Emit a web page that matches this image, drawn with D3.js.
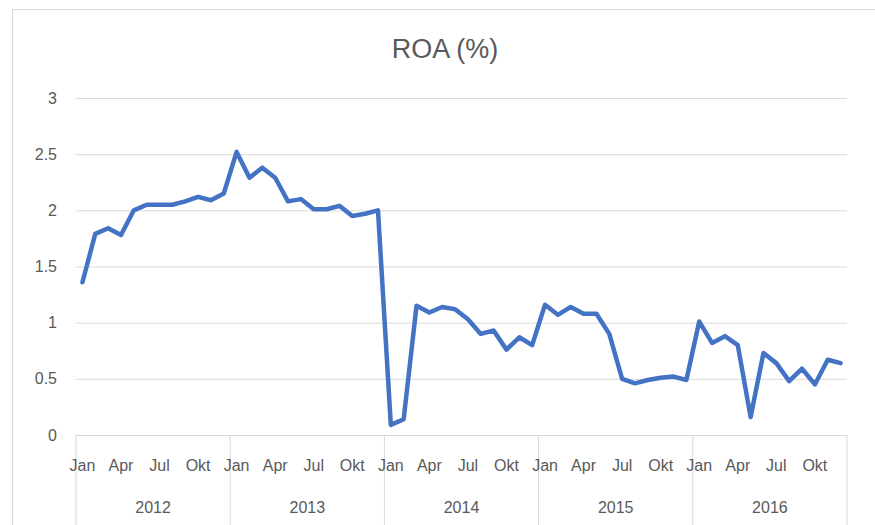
<!DOCTYPE html>
<html>
<head>
<meta charset="utf-8">
<script src="https://cdn.jsdelivr.net/npm/d3@7"></script>
<style>
  body { margin: 0; background: #fff; }
  text { font-family: "Liberation Sans", Arial, sans-serif; fill: #595959; }
</style>
</head>
<body>
<div id="vis"></div>
<script>
var years = ["2012", "2013", "2014", "2015", "2016"];
var monthNames = ["Jan", "Feb", "Mar", "Apr", "Mei", "Jun", "Jul", "Agu", "Sep", "Okt", "Nov", "Des"];
var shownMonths = ["Jan", "Apr", "Jul", "Okt"];
var yTicks = [0, 0.5, 1, 1.5, 2, 2.5, 3];

// ROA (%) per month, Jan 2012 .. Dec 2016
var roa2012 = [1.36, 1.79, 1.84, 1.78, 2.00, 2.05, 2.05, 2.05, 2.08, 2.12, 2.09, 2.15];
var roa2013 = [2.52, 2.29, 2.38, 2.29, 2.08, 2.10, 2.01, 2.01, 2.04, 1.95, 1.97, 2.00];
var roa2014 = [0.09, 0.14, 1.15, 1.09, 1.14, 1.12, 1.03, 0.90, 0.93, 0.76, 0.87, 0.80];
var roa2015 = [1.16, 1.07, 1.14, 1.08, 1.08, 0.90, 0.50, 0.46, 0.49, 0.51, 0.52, 0.49];
var roa2016 = [1.01, 0.82, 0.88, 0.80, 0.16, 0.73, 0.64, 0.48, 0.59, 0.45, 0.67, 0.64];

var series = [roa2012, roa2013, roa2014, roa2015, roa2016];

var data = [];
years.forEach(function(yr, i) {
  series[i].forEach(function(v, m) {
    data.push({key: yr + "-" + m, year: yr, month: monthNames[m], value: v});
  });
});

var margin = {top: 98, right: 28, bottom: 90, left: 76},
    width = 875 - margin.left - margin.right,
    height = 525 - margin.top - margin.bottom;

var svg = d3.select("#vis").append("svg")
    .attr("width", 875)
    .attr("height", 525);

// chart frame
svg.append("rect")
  .attr("x", 12.5).attr("y", 9.5)
  .attr("width", 900).attr("height", 600)
  .attr("fill", "none")
  .attr("stroke", "#d9d9d9");

svg.append("text")
  .attr("x", 445)
  .attr("y", 58)
  .attr("text-anchor", "middle")
  .style("font-size", "27px")
  .text("ROA (%)");

var g = svg.append("g")
  .attr("transform", "translate(" + margin.left + "," + margin.top + ")");

var x = d3.scaleBand()
  .domain(data.map(function(d) { return d.key; }))
  .range([0, width])
  .padding(0);

var xYear = d3.scaleBand()
  .domain(years)
  .range([0, width]);

var y = d3.scaleLinear()
  .domain([0, 3])
  .range([height, 0]);

// gridlines + y labels
var yAxis = g.append("g")
  .call(d3.axisLeft(y).tickValues(yTicks).tickSize(-width).tickPadding(19)
    .tickFormat(function(d) { return d; }));
yAxis.select(".domain").remove();
yAxis.selectAll(".tick line").attr("stroke", "#d9d9d9").attr("stroke-width", 1);
yAxis.selectAll(".tick text")
  .style("font-size", "16px")
  .style("font-family", "'Liberation Sans', Arial, sans-serif")
  .attr("fill", "#595959");

// year separators on category axis
var seps = years.map(function(yr) { return xYear(yr); }).concat([width]);
g.selectAll(".sep")
  .data(seps)
  .enter().append("line")
  .attr("class", "sep")
  .attr("x1", function(d) { return d; })
  .attr("x2", function(d) { return d; })
  .attr("y1", height)
  .attr("y2", height + 95)
  .attr("stroke", "#d9d9d9");

// month labels
g.selectAll(".mlab")
  .data(data.filter(function(d) { return shownMonths.indexOf(d.month) >= 0; }))
  .enter().append("text")
  .attr("class", "mlab")
  .attr("x", function(d) { return x(d.key) + x.bandwidth() / 2; })
  .attr("y", height + 36)
  .attr("text-anchor", "middle")
  .style("font-size", "16px")
  .text(function(d) { return d.month; });

// year labels
g.selectAll(".ylab")
  .data(years)
  .enter().append("text")
  .attr("class", "ylab")
  .attr("x", function(d) { return xYear(d) + xYear.bandwidth() / 2; })
  .attr("y", height + 78)
  .attr("text-anchor", "middle")
  .style("font-size", "16px")
  .text(function(d) { return d; });

var line = d3.line()
  .x(function(d) { return x(d.key) + x.bandwidth() / 2; })
  .y(function(d) { return y(d.value); });

g.append("path")
  .datum(data)
  .attr("d", line)
  .attr("fill", "none")
  .attr("stroke", "#4472c4")
  .attr("stroke-width", 4.5)
  .attr("stroke-linejoin", "round")
  .attr("stroke-linecap", "round");
</script>
</body>
</html>
